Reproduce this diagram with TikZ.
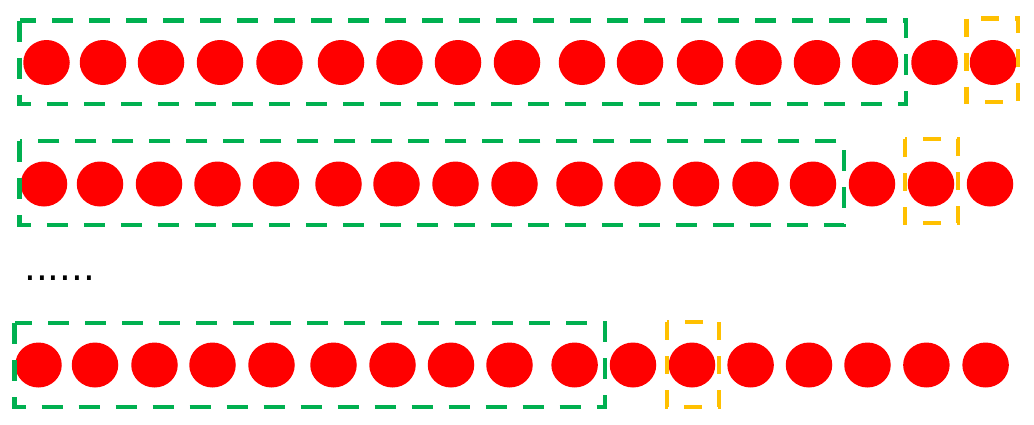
\documentclass[tikz,border=0pt]{standalone}
\usepackage{fontspec}
\newfontfamily\dotfont{DejaVu Sans}
\usetikzlibrary{shapes.geometric}
\definecolor{ballred}{RGB}{255,0,0}
\definecolor{boxgreen}{RGB}{0,176,80}
\definecolor{boxyellow}{RGB}{255,192,0}
\tikzset{
 ball/.style={ellipse,fill=ballred,minimum width=46.5pt,minimum height=45pt,inner sep=0pt},
 greenbox/.style={draw=boxgreen,line width=4.3pt,dash pattern=on 21pt off 16pt},
 yellowbox/.style={draw=boxyellow,line width=4.3pt,dash pattern=on 18pt off 16pt}}
\begin{document}
\begin{tikzpicture}[x=1pt,y=-1pt]
\useasboundingbox (0,0) rectangle (1034,424);
% first row
\foreach \x [count=\i] in {46.5,103,161,220,279.5,341,399.5,458,517,582,640,700,758.5,817,875,934.5,993}
 \node[ball] (a\i) at (\x,62.5) {};
\draw[greenbox] (19.5,20.5) rectangle (906,104);
\draw[yellowbox] (966.5,18.5) rectangle (1018,102);
% second row
\foreach \x [count=\i] in {44,100,159,217.5,276,338.5,396.5,455.5,514.5,579.5,637.5,696,755.5,813,872,931,990}
 \node[ball] (b\i) at (\x,184) {};
\draw[greenbox] (19.5,141.3) rectangle (843.7,225);
\draw[yellowbox] (905,139) rectangle (958,223);
% dots
\node[font=\dotfont\fontsize{37.2}{37.2}\selectfont,anchor=base west,inner sep=0pt] (dots) at (24,280) {......};
% last row
\foreach \x [count=\i] in {38.5,95,154.5,212.5,271.5,333.5,392.5,451,509.5,574.6,633,692,750.6,809,867.5,926.4,985.6}
 \node[ball] (c\i) at (\x,365) {};
\draw[greenbox] (14.5,323) rectangle (605,407);
\draw[yellowbox] (667,322) rectangle (719,407);
\end{tikzpicture}
\end{document}
